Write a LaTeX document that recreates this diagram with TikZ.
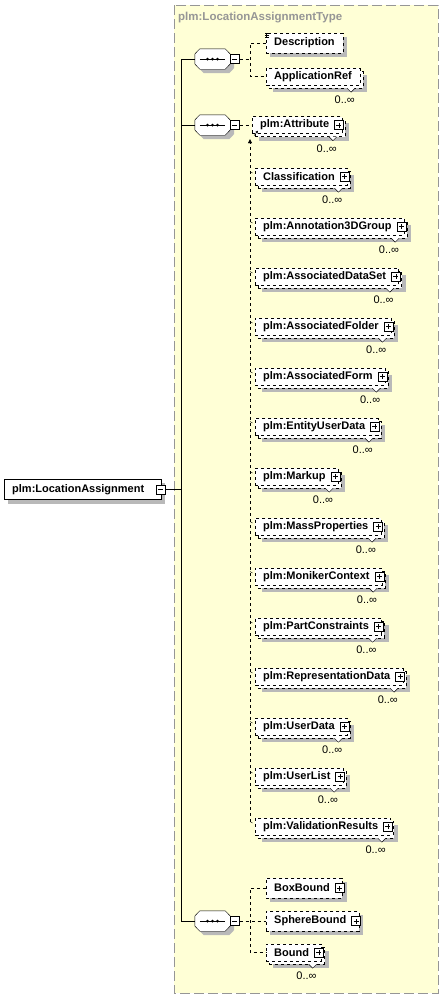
\documentclass[tikz,border=0pt]{standalone}
\usepackage{fontspec}
\setmainfont{Liberation Sans}
\usetikzlibrary{positioning,calc,shadows,arrows.meta}

\definecolor{typefill}{RGB}{255,255,214}
\definecolor{typeedge}{RGB}{150,150,150}
\definecolor{shadowgray}{RGB}{185,185,185}

\pgfdeclarelayer{back}
\pgfdeclarelayer{shadow}
\pgfsetlayers{back,shadow,main}

\tikzset{
	elembox/.style={draw, fill=white, font=\fontsize{11}{13}\selectfont\bfseries, inner xsep=8pt, inner ysep=0pt, anchor=west},
	onebox/.style={elembox, minimum height=20pt},
	manybox/.style={elembox, minimum height=17pt, copy shadow={shadow xshift=3pt, shadow yshift=-3pt, fill=white, draw=black, dashed}},
	opt/.style={dashed},
	kids/.style={execute at end node=\hspace{4.5pt}},
	occ/.style={font=\fontsize{11}{13}\selectfont, inner sep=0pt, anchor=east},
	seqbox/.style={minimum width=35pt, minimum height=20pt, inner sep=0pt},
	plusbox/.style={draw, solid, fill=white, minimum size=9pt, inner sep=0pt, path picture={\draw ([xshift=2pt]path picture bounding box.west) -- ([xshift=-2pt]path picture bounding box.east) ([yshift=2pt]path picture bounding box.south) -- ([yshift=-2pt]path picture bounding box.north);}},
	minusbox/.style={draw, solid, fill=white, minimum size=9pt, inner sep=0pt, path picture={\draw ([xshift=2pt]path picture bounding box.west) -- ([xshift=-2pt]path picture bounding box.east);}},
}

\begin{document}
\begin{tikzpicture}[x=1pt, y=-1pt]
	\useasboundingbox (0,0) rectangle (443,999);
	\begin{pgfonlayer}{back}
		\draw[typeedge, fill=typefill, line width=1pt, dash pattern=on 10pt off 4pt] (174,5) rectangle (438,993);
	\end{pgfonlayer}
	\node[anchor=west, inner sep=0pt, text=typeedge, font=\fontsize{11.5}{13}\selectfont\bfseries] (ttl) at (178,18) {plm:LocationAssignmentType};

	% root element
	\node[onebox, execute at end node=\hspace{9pt}] (root) at (4,489.5) {plm:LocationAssignment};
	\node[minusbox] (root-m) at ([xshift=-1pt]root.east) {};

	% sequences
	\node[seqbox] (seq1) at (212.5,59) {};
	\node[seqbox] (seq2) at (212.5,125) {};
	\node[seqbox] (seq3) at (212.5,921) {};
	\foreach \s in {seq1,seq2,seq3}{
		\fill[shadowgray, transform canvas={shift={(4pt,-4pt)}}] ([yshift=5pt]\s.west) -- ([xshift=5pt]\s.north west) -- ([xshift=-5pt]\s.north east) -- ([yshift=5pt]\s.east) -- ([yshift=-5pt]\s.east) -- ([xshift=-5pt]\s.south east) -- ([xshift=5pt]\s.south west) -- ([yshift=-5pt]\s.west) -- cycle;
		\draw[fill=white] ([yshift=5pt]\s.west) -- ([xshift=5pt]\s.north west) -- ([xshift=-5pt]\s.north east) -- ([yshift=5pt]\s.east) -- ([yshift=-5pt]\s.east) -- ([xshift=-5pt]\s.south east) -- ([xshift=5pt]\s.south west) -- ([yshift=-5pt]\s.west) -- cycle;
		\node[minusbox, anchor=west] (\s-m) at (\s.east) {};
		\draw ([xshift=5pt]\s.west) -- ([xshift=-5pt]\s.east);
		\foreach \d in {-5,0,5} \fill ([xshift=\d pt]\s.center) circle (1.5pt);
	}

	% children
	\node[onebox, opt] (desc) at (266,43) {Description};
	\node[manybox, opt] (appref) at (266,76.5) {ApplicationRef};
	\node[manybox, opt, kids] (attr) at (252,125) {plm:Attribute};
	\foreach \n/\t [count=\i from 0] in {classif/Classification, annot/plm:Annotation3DGroup, adset/plm:AssociatedDataSet, afolder/plm:AssociatedFolder, aform/plm:AssociatedForm, eud/plm:EntityUserData, markup/plm:Markup, massp/plm:MassProperties, moniker/plm:MonikerContext, partc/plm:PartConstraints, repd/plm:RepresentationData, udata/plm:UserData, ulist/plm:UserList, valres/plm:ValidationResults}
		\node[manybox, opt, kids] (\n) at (255,176.5+50*\i) {\t};
	\node[onebox, opt, kids] (boxb) at (266,888) {BoxBound};
	\node[onebox, opt, kids] (sphb) at (266,921) {SphereBound};
	\node[manybox, opt, kids] (bound) at (266,952.5) {Bound};

	% shadows
	\begin{pgfonlayer}{shadow}
		\foreach \n in {root,desc,boxb,sphb}
			\fill[shadowgray] ($(\n.north west)+(4,4)$) rectangle ($(\n.south east)+(4,4)$);
		\foreach \n in {appref,attr,classif,annot,adset,afolder,aform,eud,markup,massp,moniker,partc,repd,udata,ulist,valres,bound}
			\fill[shadowgray] ($(\n.north west)+(7,7)$) rectangle ($(\n.south east)+(7,7)$);
	\end{pgfonlayer}

	\foreach \n in {attr,classif,annot,adset,afolder,aform,eud,markup,massp,moniker,partc,repd,udata,ulist,valres,boxb,sphb,bound}
		\node[plusbox] (\n-p) at ([xshift=-3pt]\n.east) {};
	\foreach \n in {appref,attr,classif,annot,adset,afolder,aform,eud,markup,massp,moniker,partc,repd,udata,ulist,valres,bound}{
		\node[occ] (\n-o) at ([xshift=-5pt,yshift=-15pt]\n.south east) {0..∞};
		\draw[fill=white] ([xshift=-13pt,yshift=-3pt]\n.south east) -- ++(4,4) -- ++(4,-4);
	}
	\foreach \d in {0,2,4} \draw[line width=0.6pt] ($(desc.north west)+(-1,\d)$) -- ++(4,0);
	\draw[-{Triangle[length=2.5pt,width=2.5pt]}] ($(attr.south west)+(2,2)$) -- ++(4,-5);

	% connectors
	\coordinate (tr) at (181,0);
	\coordinate (br) at (250,0);
	\draw (seq1.west -| tr) -- (seq3.west -| tr);
	\foreach \s in {seq1,seq2,seq3} \draw (\s.west -| tr) -- (\s.west);
	\draw (root-m.east) -- (root-m.east -| tr);
	\draw[dashed] (seq1-m.east) -- (seq1-m.east -| br);
	\draw[dashed] (desc.west) -| (br |- appref.west) -- (appref.west);
	\draw[dashed] (seq2-m.east) -- (attr.west);
	\draw[dashed] (seq3-m.east) -- (sphb.west);
	\draw[dashed] (boxb.west) -| (br |- bound.west) -- (bound.west);
	\draw[dashed, -{Triangle[length=4pt,width=4pt]}] ($(valres.west -| br)+(0,-5)$) -- ($(attr.south -| br)+(0,5.5)$);
	\foreach \n in {classif,annot,adset,afolder,aform,eud,markup,massp,moniker,partc,repd,udata,ulist,valres}
		\draw[dashed] ($(\n.west -| br)+(0,-5)$) -- ($(\n.west)+(0,-2)$);
\end{tikzpicture}
\end{document}
